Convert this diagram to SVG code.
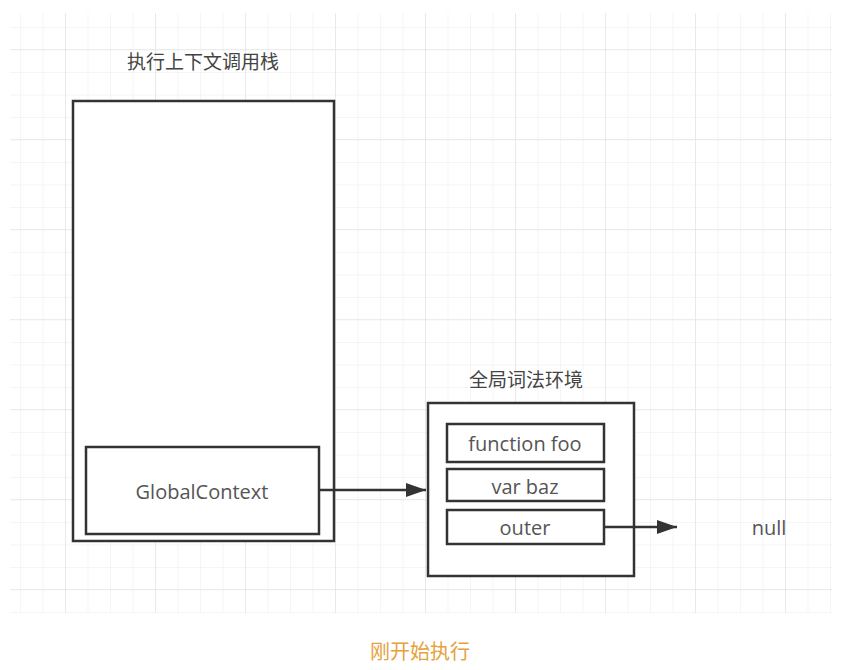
<svg xmlns="http://www.w3.org/2000/svg" width="850" height="670" viewBox="0 0 850 670">
<defs>
<pattern id="minor" x="20" y="4.5" width="22.5" height="22.5" patternUnits="userSpaceOnUse">
<path d="M0 0V22.5M0 0H22.5" fill="none" stroke="#ebebeb" stroke-width="1"/>
</pattern>
<pattern id="major" x="65" y="49" width="90" height="90" patternUnits="userSpaceOnUse">
<path d="M0 0V90M0 0H90" fill="none" stroke="#dedede" stroke-width="1"/>
</pattern>
<marker id="arr" markerWidth="20" markerHeight="16" refX="20" refY="8" orient="auto" markerUnits="userSpaceOnUse" viewBox="0 0 20 16">
<path d="M0 1L20 8L0 15Z" fill="#333"/>
</marker>
<style>
.box{fill:#fff;stroke:#333;stroke-width:2.5}
.lbl{font-family:"Open Sans","Liberation Sans",sans-serif;font-size:20px;fill:#555;text-anchor:middle;dominant-baseline:central}
.cjk{font-family:"Noto Sans CJK SC","Liberation Sans",sans-serif;font-size:19px;fill:#444;text-anchor:middle}
.edge{fill:none;stroke:#333;stroke-width:2.5}
</style>
</defs>
<rect width="850" height="670" fill="#fff"/>
<rect x="10" y="13" width="822" height="600" fill="url(#minor)"/>
<rect x="10" y="13" width="822" height="600" fill="url(#major)"/>
<g id="stack">
<text class="cjk" x="203" y="69">执行上下文调用栈</text>
<rect class="box" x="73" y="101" width="261" height="440"/>
</g>
<g id="globalContext">
<rect class="box" x="86" y="447" width="233" height="87"/>
<text class="lbl" x="202" y="491">GlobalContext</text>
</g>
<g id="globalEnv">
<text class="cjk" x="526" y="387">全局词法环境</text>
<rect class="box" x="428" y="403" width="206" height="173"/>
</g>
<g id="functionFoo">
<rect class="box" x="447" y="424" width="157" height="38"/>
<text class="lbl" x="525" y="443">function foo</text>
</g>
<g id="varBaz">
<rect class="box" x="447" y="469" width="157" height="32"/>
<text class="lbl" x="525" y="486">var baz</text>
</g>
<g id="outer">
<rect class="box" x="447" y="510" width="157" height="34"/>
<text class="lbl" x="525" y="527">outer</text>
</g>
<g id="null">
<text class="lbl" x="769" y="527">null</text>
</g>
<g id="connectors">
<path class="edge" d="M319 490H426" marker-end="url(#arr)"/>
<path class="edge" d="M604 527H677" marker-end="url(#arr)"/>
</g>
<text x="420" y="659" font-family="Noto Sans CJK SC, sans-serif" font-size="20" fill="#e6a23c" text-anchor="middle">刚开始执行</text>
</svg>
